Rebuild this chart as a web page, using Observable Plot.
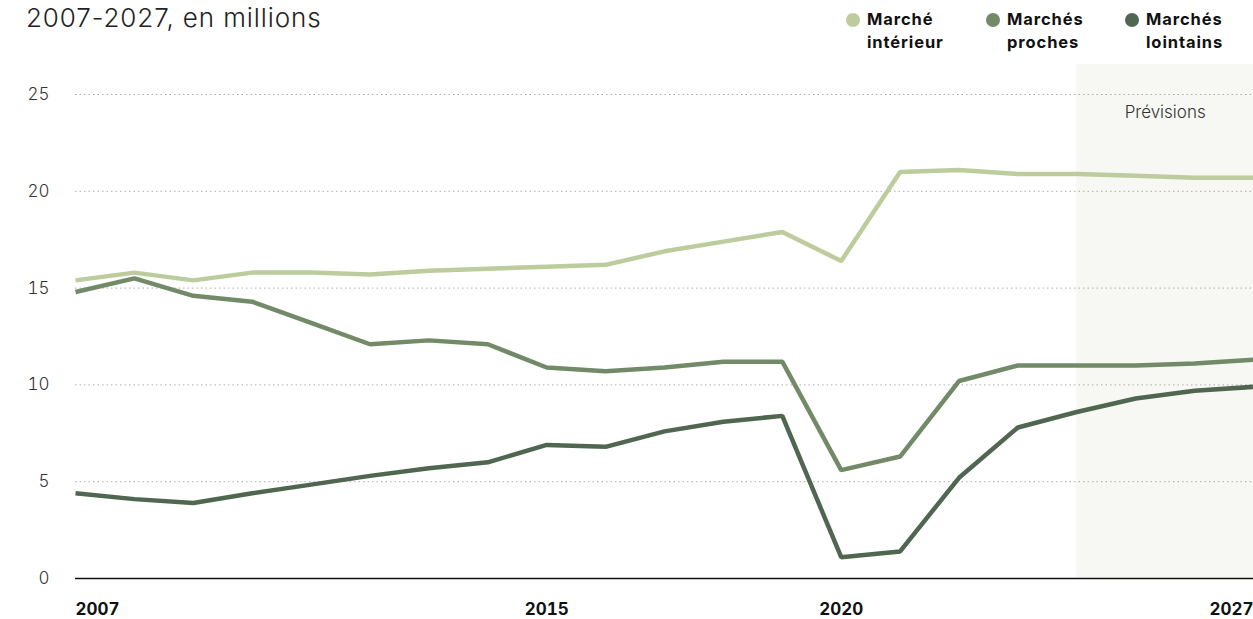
<!DOCTYPE html>
<html><head><meta charset="utf-8">
<script src="https://cdn.jsdelivr.net/npm/d3@7"></script>
<script src="https://cdn.jsdelivr.net/npm/@observablehq/plot@0.6"></script>
<style>
body{margin:0;background:#fff;font-family:Inter,"Liberation Sans",sans-serif;}
#wrap{position:relative;width:1253px;height:619px;overflow:hidden;}
#title{position:absolute;left:26px;top:2px;font-size:26px;font-weight:300;color:#222;letter-spacing:0.9px;}
#legend{position:absolute;top:8px;left:846px;display:flex;}
.item{display:flex;align-items:flex-start;}
.dot{width:14px;height:14px;border-radius:50%;margin-top:5px;margin-right:7px;}
.lab{font-size:16.5px;font-weight:700;line-height:23px;color:#111;letter-spacing:0.9px;}
#chart{position:absolute;left:0;top:60px;}
</style></head>
<body><div id="wrap">
<div id="title">2007-2027, en millions</div>
<div id="legend"></div>
<div id="chart"></div>
</div>
<script>
const years = d3.range(2007, 2028);
const series = ["Marché intérieur", "Marchés proches", "Marchés lointains"];
const legendLines = [["Marché","intérieur"],["Marchés","proches"],["Marchés","lointains"]];
const colors = ["#bccc9d", "#738a68", "#506650"];
const interieur = [15.4,15.8,15.4,15.8,15.8,15.7,15.9,16.0,16.1,16.2,16.9,17.4,17.9,16.4,21.0,21.1,20.9,20.9,20.8,20.7,20.7];
const proches   = [14.8,15.5,14.6,14.3,13.2,12.1,12.3,12.1,10.9,10.7,10.9,11.2,11.2,5.6,6.3,10.2,11.0,11.0,11.0,11.1,11.3];
const lointains = [4.4,4.1,3.9,4.4,4.85,5.3,5.7,6.0,6.9,6.8,7.6,8.1,8.4,1.1,1.4,5.2,7.8,8.6,9.3,9.7,9.9];
const yTicks = [0,5,10,15,20,25];
const forecast = {start: 2024, end: 2027, label: "Prévisions"};

const values = [interieur, proches, lointains];
const data = [];
series.forEach((s, i) => years.forEach((yr, j) => data.push({series: s, year: yr, value: values[i][j]})));

// legend
const leg = document.getElementById("legend");
const widths = [140, 139, 120];
series.forEach((s, i) => {
  const d = document.createElement("div");
  d.className = "item"; d.style.width = widths[i] + "px";
  d.innerHTML = `<div class="dot" style="background:${colors[i]}"></div><div class="lab">${legendLines[i][0]}<br>${legendLines[i][1]}</div>`;
  leg.appendChild(d);
});

const chart = Plot.plot({
  width: 1253, height: 559,
  marginLeft: 75, marginRight: 0, marginTop: 4, marginBottom: 41,
  x: {domain: [2007, 2027], axis: null},
  y: {domain: [0, 26.55], axis: null},
  color: {domain: series, range: colors},
  style: {fontFamily: "Inter, 'Liberation Sans', sans-serif", background: "transparent", overflow: "visible"},
  marks: [
    Plot.rectY([forecast], {x1: "start", x2: "end", y1: 0, y2: 26.55, fill: "#f7f8f3"}),
    Plot.gridY(yTicks.filter(d => d > 0), {stroke: "#999", strokeOpacity: 0.8, strokeDasharray: "1.5,3", strokeWidth: 1}),
    Plot.axisY(yTicks, {tickSize: 0, tickPadding: 26, fontSize: 17, fontWeight: 300, color: "#333", label: null, ariaLabel: "yticks"}),
    Plot.text([forecast], {x: d => (d.start + d.end) / 2, y: 24.07, text: "label", fontSize: 17, fontWeight: 300, fill: "#333", ariaLabel: "forecast-label"}),
    Plot.line(data, {x: "year", y: "value", z: "series", stroke: "series", strokeWidth: 4.5, strokeLinejoin: "miter", strokeLinecap: "butt"}),
    Plot.ruleY([0], {stroke: "#111", strokeWidth: 1.5}),
    Plot.axisX([2007], {tickSize: 0, tickPadding: 24, textAnchor: "start", fontSize: 17, fontWeight: 700, fill: "#111", tickFormat: d => String(d), label: null, ariaLabel: "xticks"}),
    Plot.axisX([2015, 2020], {tickSize: 0, tickPadding: 24, fontSize: 17, fontWeight: 700, fill: "#111", tickFormat: d => String(d), label: null, ariaLabel: "xticks"}),
    Plot.axisX([2027], {tickSize: 0, tickPadding: 24, textAnchor: "end", fontSize: 17, fontWeight: 700, fill: "#111", tickFormat: d => String(d), label: null, ariaLabel: "xticks"})
  ]
});
d3.select(chart).selectAll('[aria-label="xticks"] text').style("letter-spacing", "1.3px");
d3.select(chart).selectAll('[aria-label="yticks"] text').style("letter-spacing", "0.5px");
d3.select(chart).selectAll('[aria-label="forecast-label"] text').style("letter-spacing", "1px");
document.getElementById("chart").appendChild(chart);
</script>
</body></html>
